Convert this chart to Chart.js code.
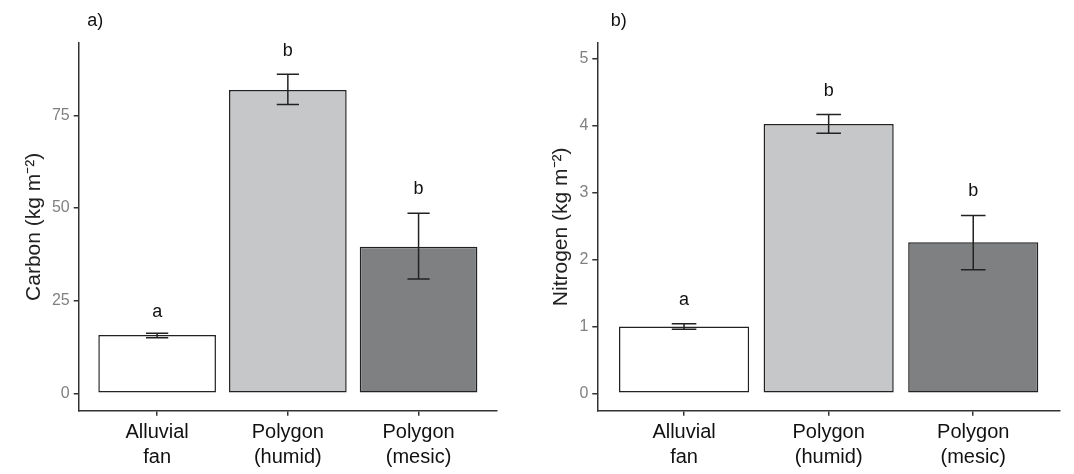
<!DOCTYPE html>
<html>
<head>
<meta charset="utf-8">
<script src="https://cdn.jsdelivr.net/npm/chart.js@4"></script>
<style>
  body { margin: 0; background: #fff; }
  #wrap { position: relative; width: 1074px; height: 474px; }
  canvas { position: absolute; top: 0; }
</style>
</head>
<body>
<div id="wrap">
  <canvas id="ChartCarbon_Canvasobj" width="540" height="474" style="left:0"></canvas>
  <canvas id="ChartNitrogen_Canvasobj" width="534" height="474" style="left:540px"></canvas>
</div>
<script>
// categories
var siteLabels = [['Alluvial', 'fan'], ['Polygon', '(humid)'], ['Polygon', '(mesic)']];

// carbon panel
var carbonMean = [15.7, 81.8, 39.5];
var carbonUpper = [16.2, 86.1, 48.6];
var carbonLower = [15.0, 77.9, 30.8];
var carbonLetters = ['a', 'b', 'b'];
var carbonLetterY = [22, 92.3, 55.1];
var carbonTicks = [0, 25, 50, 75];

// nitrogen panel
var nitrogenMean = [1.0, 4.03, 2.26];
var nitrogenUpper = [1.04, 4.17, 2.66];
var nitrogenLower = [0.96, 3.89, 1.85];
var nitrogenLetters = ['a', 'b', 'b'];
var nitrogenLetterY = [1.4, 4.52, 3.03];
var nitrogenTicks = [0, 1, 2, 3, 4, 5];

var barFill = ['#ffffff', '#c6c7c9', '#7f8082'];
var inkColor = '#222222';
var fontFam = '"Liberation Sans", Arial, sans-serif';

// draws error bars, significance letters and the panel tag
const errorBarPlugin = {
  id: 'errorBars',
  afterDatasetsDraw(chart, args, opts) {
    const ctx = chart.ctx;
    const xs = chart.scales.x, ys = chart.scales.y;
    ctx.save();
    ctx.strokeStyle = inkColor;
    ctx.lineWidth = 1.5;
    for (let i = 0; i < opts.upper.length; i++) {
      const xc = xs.getPixelForValue(i);
      const xl = xs.getPixelForValue(i - 0.085);
      const xr = xs.getPixelForValue(i + 0.085);
      const yh = ys.getPixelForValue(opts.upper[i]);
      const yl = ys.getPixelForValue(opts.lower[i]);
      ctx.beginPath();
      ctx.moveTo(xc, yh); ctx.lineTo(xc, yl);
      ctx.moveTo(xl, yh); ctx.lineTo(xr, yh);
      ctx.moveTo(xl, yl); ctx.lineTo(xr, yl);
      ctx.stroke();
    }
    ctx.fillStyle = '#111';
    ctx.font = '18px ' + fontFam;
    ctx.textAlign = 'center';
    ctx.textBaseline = 'middle';
    for (let i = 0; i < opts.letters.length; i++) {
      ctx.fillText(opts.letters[i], xs.getPixelForValue(i), ys.getPixelForValue(opts.letterY[i]));
    }
    // panel tag, a little right of the y axis
    ctx.textAlign = 'left';
    ctx.fillText(opts.tag, chart.chartArea.left + opts.tagDx, 21);
    ctx.restore();
  }
};

function makeConfig(panel, tagDx, title, means, upper, lower, letters, letterY, ticks, yMin, yMax, axisW, padRight, titlePad) {
  return {
    type: 'bar',
    data: {
      datasets: [
        {
          data: means.map(function (v, i) { return { x: i, y: v }; }),
          backgroundColor: barFill,
          borderColor: inkColor,
          borderWidth: 1.5,
          borderSkipped: false,
          barPercentage: 0.9,
          categoryPercentage: 1.0
        }
      ]
    },
    options: {
      responsive: false,
      animation: false,
      devicePixelRatio: 1,
      layout: { padding: { left: 0, right: padRight, top: 43, bottom: 0 } },
      plugins: {
        legend: { display: false },
        tooltip: { enabled: false },
        errorBars: { upper: upper, lower: lower, letters: letters, letterY: letterY, tag: panel, tagDx: tagDx }
      },
      scales: {
        x: {
          type: 'linear',
          offset: false,
          min: -0.6,
          max: 2.6,
          grid: { display: true, offset: false, drawOnChartArea: false, drawTicks: true, tickLength: 5, color: '#333', lineWidth: 1.5 },
          border: { display: true, color: '#333', width: 1.5 },
          afterBuildTicks: function (scale) {
            scale.ticks = siteLabels.map(function (l, i) { return { value: i }; });
          },
          afterFit: function (scale) { scale.height = 63.3; },
          ticks: {
            color: '#111',
            padding: 4,
            maxRotation: 0,
            autoSkip: false,
            font: { family: fontFam, size: 20, lineHeight: 1.25 },
            callback: function (v) { return siteLabels[v]; }
          }
        },
        y: {
          min: yMin,
          max: yMax,
          grid: { display: true, drawOnChartArea: false, drawTicks: true, tickLength: 5, color: '#333', lineWidth: 1.5 },
          border: { display: true, color: '#333', width: 1.5 },
          afterBuildTicks: function (scale) {
            scale.ticks = ticks.map(function (t) { return { value: t }; });
          },
          afterFit: function (scale) { scale.width = axisW; },
          ticks: {
            color: '#808080',
            padding: 4,
            font: { family: fontFam, size: 16 }
          },
          title: {
            display: true,
            text: title,
            color: '#222',
            padding: { top: titlePad, bottom: 0 },
            font: { family: fontFam, size: 21 }
          }
        }
      }
    },
    plugins: [errorBarPlugin]
  };
}

const ChartCarbon = new Chart(
  document.getElementById('ChartCarbon_Canvasobj'),
  makeConfig('a)', 8.5, 'Carbon (kg m\u207B\u00B2)', carbonMean, carbonUpper, carbonLower,
    carbonLetters, carbonLetterY, carbonTicks, -4.7, 94.5, 78.7, 43, 22)
);

const ChartNitrogen = new Chart(
  document.getElementById('ChartNitrogen_Canvasobj'),
  makeConfig('b)', 13.5, 'Nitrogen (kg m\u207B\u00B2)', nitrogenMean, nitrogenUpper, nitrogenLower,
    nitrogenLetters, nitrogenLetterY, nitrogenTicks, -0.26, 5.24, 57.3, 14, 9)
);
</script>
</body>
</html>
